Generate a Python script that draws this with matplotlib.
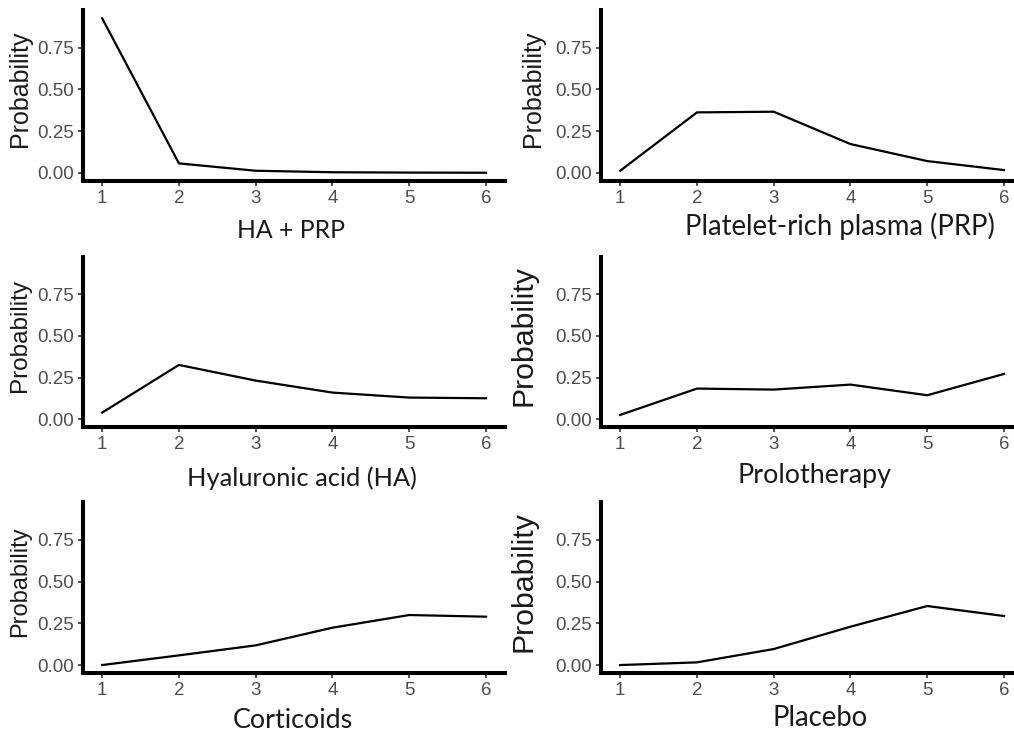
import matplotlib
matplotlib.use("Agg")
import matplotlib.pyplot as plt

ranks = [1, 2, 3, 4, 5, 6]
treatments = ["HA + PRP", "Platelet-rich plasma (PRP)", "Hyaluronic acid (HA)",
              "Prolotherapy", "Corticoids", "Placebo"]
ha_prp = [0.926, 0.056, 0.012, 0.003, 0.001, 0.000]
prp = [0.012, 0.362, 0.366, 0.172, 0.070, 0.016]
ha = [0.040, 0.326, 0.232, 0.160, 0.130, 0.126]
prolotherapy = [0.026, 0.184, 0.178, 0.208, 0.144, 0.272]
corticoids = [0.000, 0.058, 0.118, 0.224, 0.300, 0.290]
placebo = [0.000, 0.016, 0.096, 0.230, 0.354, 0.294]
yticks = [0.00, 0.25, 0.50, 0.75]
ytick_labels = ["0.00", "0.25", "0.50", "0.75"]

series = [ha_prp, prp, ha, prolotherapy, corticoids, placebo]

W, H = 1014, 733
fig = plt.figure(figsize=(W / 100, H / 100), dpi=100)

# panel geometry in pixels: (left, top, bottom)
lefts = [83, 601, 83, 601, 83, 601]
tops = [10, 10, 256.6, 256.6, 502.3, 502.3]
bottoms = [180.5, 180.5, 427, 427, 672.8, 672.8]
pw = 422.2
ylab_x = [20, 533, 20, 524, 20, 524]
ylab_size = [18, 18, 17.5, 21.8, 17, 21.8]
xlab_pos = [(291, 231), (840, 226), (302, 478), (815, 476), (293, 720), (820, 718)]
xlab_size = [17.8, 19.8, 18.3, 19.4, 19.4, 19.8]

for i in range(6):
    l, t, b = lefts[i], tops[i], bottoms[i]
    ax = fig.add_axes([l / W, 1 - b / H, pw / W, (b - t) / H])
    ax.plot(ranks, series[i], color="black", lw=1.6, solid_joinstyle="round")
    ax.set_xlim(0.75, 6.25)
    ax.set_ylim(-0.0465, 0.976)
    ax.set_xticks(ranks)
    ax.set_xticklabels([str(r) for r in ranks])
    ax.set_yticks(yticks)
    ax.set_yticklabels(ytick_labels)
    for s in ["top", "right"]:
        ax.spines[s].set_visible(False)
    for s in ["left", "bottom"]:
        ax.spines[s].set_linewidth(2.9)
        ax.spines[s].set_color("black")
        ax.spines[s].set_capstyle("projecting")
    ax.tick_params(axis="both", length=3.5, width=1.2, color="#333333",
                   labelcolor="#4D4D4D", labelsize=13.5, pad=3)
    for lab in ax.get_xticklabels() + ax.get_yticklabels():
        lab.set_fontfamily("Liberation Sans")
    ax.patch.set_alpha(0)
    # y label
    fig.text(ylab_x[i] / W, 1 - ((t + b) / 2 - 6) / H, "Probability", rotation=90,
             ha="center", va="center", fontsize=ylab_size[i],
             family="Liberation Sans", color="#1A1A1A")
    xx, yy = xlab_pos[i]
    fig.text(xx / W, 1 - yy / H, treatments[i], ha="center", va="center",
             fontsize=xlab_size[i], family="Lato", color="#1A1A1A")

fig.savefig("out.png", dpi=100)
